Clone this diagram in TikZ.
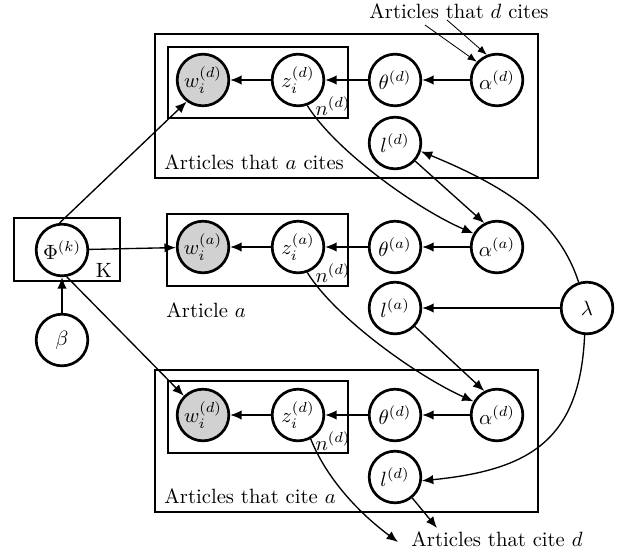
\documentclass[tikz,border=0pt]{standalone}
\usetikzlibrary{arrows.meta}
\begin{document}
\begin{tikzpicture}[x=0.484pt,y=-0.484pt,
  var/.style={circle,draw,line width=1.3pt,minimum size=25pt,inner sep=0pt},
  obs/.style={var,fill=black!18},
  plate/.style={draw,line width=0.65pt},
  edge/.style={-{Latex[length=5.5pt,width=4.5pt]},line width=0.65pt},
  thinedge/.style={-{Latex[length=4.5pt,width=3.5pt]},line width=0.4pt},
  lbl/.style={inner sep=1pt}]
\useasboundingbox (0,0) rectangle (618,554);

% plates
\draw[plate] (155,34) rectangle (538,178);
\draw[plate] (168,47) rectangle (348,118);
\draw[plate] (167,214) rectangle (348,286);
\draw[plate] (155,370) rectangle (538,512);
\draw[plate] (168,381) rectangle (348,453);
\draw[plate] (14,218) rectangle (120,281);

% plate labels
\node[lbl] (nt) at (333,106) {$n^{(d)}$};
\node[lbl] (nm) at (333,273) {$n^{(d)}$};
\node[lbl] (nb) at (333,441) {$n^{(d)}$};
\node[lbl] (kk) at (104,270) {K};
\node[lbl,anchor=west] (citesA) at (162,162) {Articles that $a$ cites};
\node[lbl,anchor=west] (artA) at (164,310) {Article $a$};
\node[lbl,anchor=west] (citeA) at (162,496) {Articles that cite $a$};
\node[lbl] (dcites) at (459,11) {Articles that $d$ cites};
\node[lbl] (citeD) at (497,539) {Articles that cite $d$};

% top plate: articles that a cites
\node[obs] (wt) at (203,80) {$w_i^{(d)}$};
\node[var] (zt) at (298,80) {$z_i^{(d)}$};
\node[var] (tt) at (395,80) {$\theta^{(d)}$};
\node[var] (at) at (497,80) {$\alpha^{(d)}$};
\node[var] (lt) at (395,143) {$l^{(d)}$};

% middle: article a
\node[var] (phi) at (62,250) {$\Phi^{(k)}$};
\node[obs] (wm) at (203,247) {$w_i^{(a)}$};
\node[var] (zm) at (298,247) {$z_i^{(a)}$};
\node[var] (tm) at (395,247) {$\theta^{(a)}$};
\node[var] (am) at (497,247) {$\alpha^{(a)}$};
\node[var] (lm) at (395,308) {$l^{(a)}$};
\node[var] (lam) at (587,308) {$\lambda$};
\node[var] (beta) at (62,340) {$\beta$};

% bottom plate: articles that cite a
\node[obs] (wb) at (203,415) {$w_i^{(d)}$};
\node[var] (zb) at (298,415) {$z_i^{(d)}$};
\node[var] (tb) at (395,415) {$\theta^{(d)}$};
\node[var] (ab) at (497,415) {$\alpha^{(d)}$};
\node[var] (lb) at (395,477) {$l^{(d)}$};

% free ends
\coordinate (d1) at (425,25);
\coordinate (d2) at (447,20);
\coordinate (c1) at (398,542);
\coordinate (c2) at (437,528);

% chains within each row
\foreach \r in {t,m,b}{
  \draw[edge] (z\r) -- (w\r);
  \draw[edge] (t\r) -- (z\r);
  \draw[edge] (a\r) -- (t\r);
}

% topics
\draw[edge] (beta) -- (phi);
\draw[edge] (phi.95) -- (wt.233);
\draw[edge] (phi) -- (wm);
\draw[edge] (phi.-80) -- (wb.135);

% citation links
\draw[thinedge] (d1) -- (at.138);
\draw[thinedge] (d2) -- (at.112);
\draw[edge] (zt.-70) .. controls (335,150) and (415,208) .. (am.150);
\draw[edge] (lt) -- (am.118);
\draw[edge] (zm.-70) .. controls (335,317) and (415,375) .. (ab.150);
\draw[edge] (lm) -- (ab.118);
\draw[edge] (zb.-62) .. controls (325,475) and (355,510) .. (c1);
\draw[edge] (lb) -- (c2);

% lambda
\draw[edge] (lam) -- (lm);
\draw[edge] (lam.108) .. controls (560,225) and (515,190) .. (lt.-18);
\draw[edge] (lam.-95) .. controls (580,440) and (530,470) .. (lb.-8);
\end{tikzpicture}
\end{document}
